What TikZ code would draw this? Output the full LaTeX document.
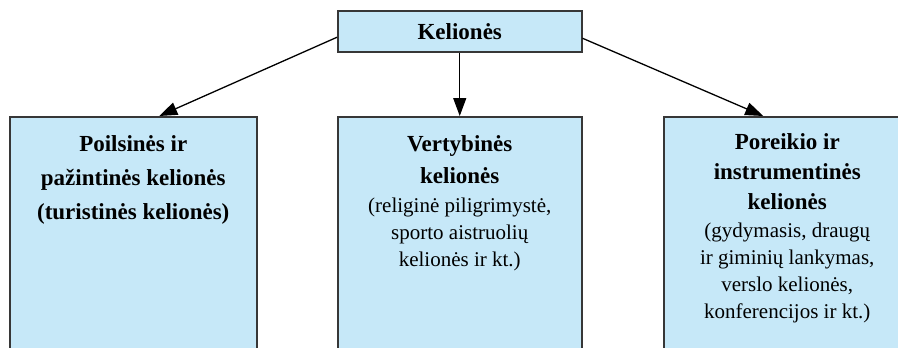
\documentclass[tikz,border=0pt]{standalone}
\usepackage{fontspec}
\setmainfont{Liberation Serif}
\usetikzlibrary{arrows.meta}
\definecolor{boxfill}{RGB}{198,232,248}
\definecolor{boxline}{RGB}{55,55,55}
\newcommand{\bfline}[1]{\fontsize{23}{#1}\selectfont\bfseries}
\newcommand{\rgline}[1]{\fontsize{21}{#1}\selectfont\mdseries}
\begin{document}
\begin{tikzpicture}[x=1pt,y=-1pt,
  boxst/.style={draw=boxline, line width=1.5pt, fill=boxfill, inner sep=0pt, anchor=north west},
  arr/.style={line width=1.3pt, -{Triangle[length=18pt,width=13pt]}}]
\useasboundingbox (0,0) rectangle (898,348);
\clip (0,0) rectangle (898,348);
\node[boxst, minimum width=244pt, minimum height=41pt, font=\fontsize{23}{28}\selectfont\bfseries] (top) at (337,10) {Kelionės};
\node[boxst] (left) at (9,116) {\parbox[c][250pt][t]{247pt}{\centering
  \bfline{34}\rule{0pt}{35pt}Poilsinės ir\\ pažintinės kelionės\\ (turistinės kelionės)\par}};
\node[boxst] (mid) at (337,116) {\parbox[c][250pt][t]{244pt}{\centering
  \bfline{32}\rule{0pt}{35pt}Vertybinės\\ kelionės\par
  \vspace{2pt}
  \rgline{27}(religinė piligrimystė,\\ sporto aistruolių\\ kelionės ir kt.)\par}};
\node[boxst] (right) at (663,116) {\parbox[c][250pt][t]{247pt}{\centering
  \bfline{30}\rule{0pt}{33pt}Poreikio ir\\ instrumentinės\\ kelionės\par
  \vspace{1pt}
  \rgline{27}(gydymasis, draugų\\ ir giminių lankymas,\\ verslo kelionės,\\ konferencijos ir kt.)\par}};
\draw[arr] ([yshift=-6pt]top.west) -- ([xshift=26pt]left.north);
\draw[arr] (top.south) -- (mid.north);
\draw[arr] ([yshift=-7pt]top.east) -- ([xshift=-24pt]right.north);
\end{tikzpicture}
\end{document}
